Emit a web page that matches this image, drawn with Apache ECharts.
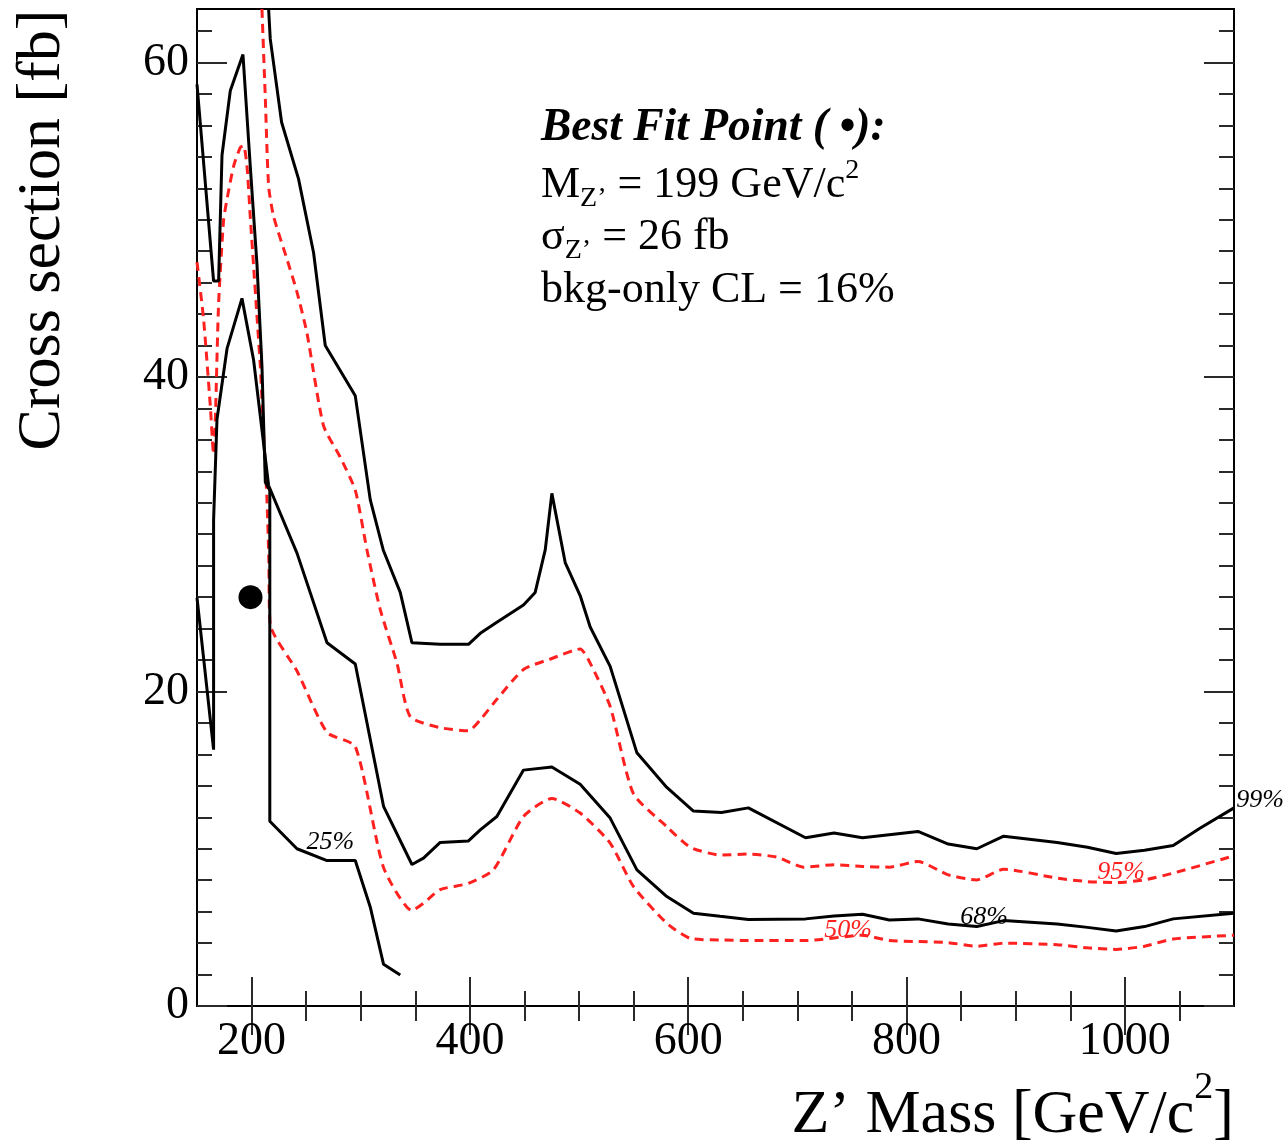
<!DOCTYPE html>
<html>
<head>
<meta charset="utf-8">
<script src="https://cdn.jsdelivr.net/npm/echarts@6/dist/echarts.min.js"></script>
<style>
  html, body { margin: 0; padding: 0; background: #ffffff; }
  #chart { width: 1288px; height: 1148px; }
</style>
</head>
<body>
<div id="chart"></div>
<script>
// Confidence-level contours in the (Z' mass, cross section) plane.
// Each contour is a list of [mass GeV/c^2, cross section fb] points.

const cl99Upper = [
  [215.6, 63.4], [217.1, 61.5], [227.5, 56.2], [243.0, 52.6], [256.8, 47.9], [267.5, 42.0],
  [295.0, 38.8], [308.7, 32.2], [320.6, 29.0], [336.2, 26.3], [346.9, 23.1], [372.8, 23.0],
  [398.7, 23.0], [409.5, 23.7], [424.7, 24.4], [449.1, 25.5], [459.8, 26.3], [469.0, 29.0],
  [475.1, 32.6], [487.3, 28.2], [501.0, 26.1], [510.2, 24.1], [528.5, 21.6], [553.0, 16.1],
  [580.4, 13.9], [604.8, 12.4], [630.5, 12.3], [655.1, 12.6], [707.5, 10.7], [733.6, 11.0],
  [759.7, 10.7], [810.5, 11.1], [838.2, 10.3], [864.4, 10.0], [889.0, 10.8], [938.0, 10.4],
  [965.8, 10.1], [992.0, 9.7], [1018.1, 9.9], [1044.3, 10.2], [1068.8, 11.3], [1100, 12.6]
];

const cl99Left = [
  [150, 58.6], [165.2, 46.1], [169.8, 46.1], [172.9, 54.1], [180.5, 58.2], [192.1, 60.5],
  [198.8, 53.4], [205.0, 47.1], [209.5, 40.7], [212.6, 33.3], [216.7, 32.8]
];

const cl25 = [
  [216.7, 32.8], [216.7, 11.75], [241.6, 10.0], [269.1, 9.25], [295.0, 9.25],
  [308.7, 6.3], [320.9, 2.65], [336.2, 1.97]
];

const cl68 = [
  [150, 25.96], [165.2, 16.3], [165.2, 30.9], [168.3, 37.3], [177.5, 41.8], [191.2, 45.0],
  [201.8, 41.1], [215.6, 33.1], [241.6, 28.8], [269.1, 23.1], [295.0, 21.75], [320.9, 12.7],
  [346.9, 9.0], [357.5, 9.4], [372.8, 10.4], [398.7, 10.5], [409.5, 11.2], [424.7, 12.05],
  [449.1, 15.0], [475.1, 15.2], [501.0, 14.1], [528.5, 11.95], [553.0, 8.66], [580.4, 6.96],
  [604.8, 5.9], [629.2, 5.7], [655.1, 5.5], [707.5, 5.54], [733.6, 5.73], [759.7, 5.84],
  [784.3, 5.47], [810.5, 5.54], [838.2, 5.22], [864.4, 5.05], [889.0, 5.43], [938.0, 5.22],
  [965.8, 5.0], [992.0, 4.77], [1018.1, 5.05], [1044.3, 5.54], [1100, 5.9]
];

const cl95 = [
  [209.5, 63.4], [212.6, 57.7], [215.6, 52.15], [220.2, 50.2], [232.4, 47.5], [241.6, 45.4],
  [250.7, 42.8], [265.9, 36.9], [281.2, 34.9], [295.0, 32.8], [305.7, 29.0], [317.9, 25.2],
  [333.2, 21.8], [345.3, 18.4], [372.8, 17.7], [398.7, 17.5], [409.5, 18.2], [424.7, 19.5],
  [449.1, 21.4], [475.1, 22.1], [501.0, 22.7], [510.2, 21.8], [528.5, 19.05], [549.8, 13.5],
  [580.4, 11.4], [601.8, 10.1], [629.2, 9.6], [655.1, 9.66], [681.3, 9.47], [705.8, 8.83],
  [733.6, 8.98], [759.7, 8.87], [784.3, 8.83], [810.5, 9.19], [838.2, 8.34], [864.4, 8.02],
  [889.0, 8.7], [938.0, 8.13], [965.8, 7.91], [992.0, 7.85], [1018.1, 8.02], [1044.3, 8.45],
  [1100, 9.55]
];

const cl50 = [
  [150, 47.3], [156.0, 43.7], [162.2, 38.15], [165.2, 35.1], [166.8, 37.3], [169.8, 44.7],
  [174.4, 50.0], [177.5, 51.3], [183.5, 53.4], [189.7, 54.6], [192.7, 54.7], [195.8, 53.4],
  [198.8, 50.2], [201.8, 47.1], [204.9, 43.9], [208.0, 40.7], [211.0, 36.45], [214.1, 32.2],
  [215.8, 28.4], [217.1, 24.25], [241.6, 21.3], [269.1, 17.4], [295.0, 16.5], [320.9, 8.8],
  [346.9, 6.07], [357.5, 6.54], [372.8, 7.4], [398.7, 7.8], [421.6, 8.66], [449.1, 12.05],
  [475.1, 13.2], [501.0, 12.27], [528.5, 10.36], [549.8, 7.6], [580.4, 5.26], [601.8, 4.3],
  [629.2, 4.2], [655.1, 4.16], [707.5, 4.16], [759.7, 4.5], [784.3, 4.16], [810.5, 4.1],
  [838.2, 4.03], [864.4, 3.8], [889.0, 4.0], [938.0, 3.9], [965.8, 3.7], [992.0, 3.6],
  [1018.1, 3.8], [1044.3, 4.26], [1100, 4.5]
];

// Best fit point: M = 199 GeV/c^2, sigma = 26 fb
const bestFit = [[199, 26]];

// Contour level tags: [text, mass, cross section]
const blackTags = [['25%', 272.1, 10.44], ['68%', 871.1, 5.66], ['99%', 1124.0, 13.1]];
const redTags = [['50%', 746.5, 4.84], ['95%', 996.6, 8.53]];

// Axis ticks
const xMajor = [200, 400, 600, 800, 1000];
const xMinor = [200, 250, 300, 350, 400, 450, 500, 550, 600, 650, 700, 750, 800, 850, 900, 950, 1000, 1050];
const yMajor = [0, 20, 40, 60];
const yMinor = [2, 4, 6, 8, 10, 12, 14, 16, 18, 20, 22, 24, 26, 28, 30, 32, 34, 36, 38, 40,
                42, 44, 46, 48, 50, 52, 54, 56, 58, 60, 62];

const X_MIN = 150, X_MAX = 1100, Y_MIN = 0, Y_MAX = 63.4;
const SERIF = '"Liberation Serif", "DejaVu Serif", serif';
const TICK_COLOR = '#2a2a2a';
const RED = '#ff2020';

function xAxisDef(position, ticks, len, labels) {
  return {
    type: 'value', gridIndex: 0, position: position, min: X_MIN, max: X_MAX,
    axisLine: { show: false }, splitLine: { show: false },
    axisTick: { show: true, inside: true, length: len, customValues: ticks,
                lineStyle: { color: TICK_COLOR, width: 2 } },
    axisLabel: labels
      ? { show: true, customValues: ticks, margin: 13, fontSize: 46, fontFamily: SERIF, color: '#000',
          formatter: v => String(v) }
      : { show: false }
  };
}
function yAxisDef(position, ticks, len, labels) {
  return {
    type: 'value', gridIndex: 0, position: position, min: Y_MIN, max: Y_MAX,
    axisLine: { show: false }, splitLine: { show: false },
    axisTick: { show: true, inside: true, length: len, customValues: ticks,
                lineStyle: { color: TICK_COLOR, width: 2 } },
    axisLabel: labels
      ? { show: true, customValues: ticks, margin: 8, fontSize: 46, fontFamily: SERIF, color: '#000',
          formatter: v => String(v) }
      : { show: false }
  };
}

function contour(name, data, color, dashed) {
  return {
    name: name, type: 'line', data: data, xAxisIndex: 0, yAxisIndex: 0,
    showSymbol: false, symbol: 'none', smooth: dashed ? 0.2 : false,
    lineStyle: { color: color, width: 3, type: dashed ? [9, 6] : 'solid', opacity: 1 },
    z: dashed ? 3 : 4, silent: true
  };
}

function tagSeries(tags, color) {
  return {
    type: 'scatter', xAxisIndex: 0, yAxisIndex: 0, clip: false, symbolSize: 1, silent: true,
    itemStyle: { color: 'rgba(0,0,0,0)', opacity: 1 },
    data: tags.map(t => ({ name: t[0], value: [t[1], t[2]] })),
    label: { show: true, position: 'inside', formatter: '{b}', fontStyle: 'italic', opacity: 1,
             fontSize: 26, fontFamily: SERIF, color: color },
    z: 6
  };
}

const chart = echarts.init(document.getElementById('chart'), null, { renderer: 'canvas' });

chart.setOption({
  animation: false,
  backgroundColor: '#ffffff',
  grid: { left: 197, top: 9, width: 1037, height: 997, show: true,
          borderColor: '#000', borderWidth: 2, backgroundColor: 'transparent',
          containLabel: false, outerBoundsMode: 'none' },
  xAxis: [
    xAxisDef('bottom', xMajor, 29, true),
    xAxisDef('bottom', xMinor, 15, false),
    xAxisDef('top', xMajor, 29, false),
    xAxisDef('top', xMinor, 15, false)
  ],
  yAxis: [
    yAxisDef('left', yMajor, 30, true),
    yAxisDef('left', yMinor, 15, false),
    yAxisDef('right', yMajor, 30, false),
    yAxisDef('right', yMinor, 15, false)
  ],
  series: [
    contour('50%', cl50, RED, true),
    contour('95%', cl95, RED, true),
    contour('99%', cl99Upper, '#000', false),
    contour('99% low mass', cl99Left, '#000', false),
    contour('68%', cl68, '#000', false),
    contour('25%', cl25, '#000', false),
    {
      name: 'Best fit', type: 'scatter', data: bestFit, xAxisIndex: 0, yAxisIndex: 0,
      symbol: 'circle', symbolSize: 24, itemStyle: { color: '#000', opacity: 1 }, z: 7, silent: true
    },
    tagSeries(blackTags, '#000'),
    tagSeries(redTags, RED)
  ],
  graphic: [
    {
      type: 'text', x: 43, y: 230, rotation: Math.PI / 2, silent: true,
      style: { text: 'Cross section [fb]', fontSize: 62, fontFamily: SERIF, fill: '#000',
               align: 'center', verticalAlign: 'middle' }
    },
    {
      type: 'text', x: 1234, y: 1116, silent: true,
      style: {
        text: '{a|Z\u2019 Mass [GeV/c}{b|2}{a|]}',
        align: 'right', verticalAlign: 'middle', fill: '#000',
        rich: {
          a: { fontSize: 62, fontFamily: SERIF, fill: '#000', lineHeight: 94 },
          b: { fontSize: 38, fontFamily: SERIF, fill: '#000', verticalAlign: 'top', lineHeight: 40 }
        }
      }
    },
    {
      type: 'text', x: 541, y: 128, silent: true,
      style: { text: 'Best Fit Point ( \u2022):', fontSize: 45.5, fontFamily: SERIF,
               fontWeight: 'bold', fontStyle: 'italic', fill: '#000', align: 'left', verticalAlign: 'middle' }
    },
    {
      type: 'text', x: 541, y: 185, silent: true,
      style: {
        text: '{a|M}{s|Z\u2019}{a| = 199 GeV/c}{p|2}',
        align: 'left', verticalAlign: 'middle', fill: '#000',
        rich: {
          a: { fontSize: 44, fontFamily: SERIF, fill: '#000', lineHeight: 56 },
          s: { fontSize: 28, fontFamily: SERIF, fill: '#000', verticalAlign: 'bottom', lineHeight: 18 },
          p: { fontSize: 28, fontFamily: SERIF, fill: '#000', verticalAlign: 'top', lineHeight: 34 }
        }
      }
    },
    {
      type: 'text', x: 541, y: 237, silent: true,
      style: {
        text: '{a|\u03c3}{s|Z\u2019}{a| = 26 fb}',
        align: 'left', verticalAlign: 'middle', fill: '#000',
        rich: {
          a: { fontSize: 44, fontFamily: SERIF, fill: '#000', lineHeight: 56 },
          s: { fontSize: 28, fontFamily: SERIF, fill: '#000', verticalAlign: 'bottom', lineHeight: 18 }
        }
      }
    },
    {
      type: 'text', x: 541, y: 290, silent: true,
      style: { text: 'bkg-only CL = 16%', fontSize: 44, fontFamily: SERIF, fill: '#000',
               align: 'left', verticalAlign: 'middle' }
    }
  ]
});
</script>
</body>
</html>
